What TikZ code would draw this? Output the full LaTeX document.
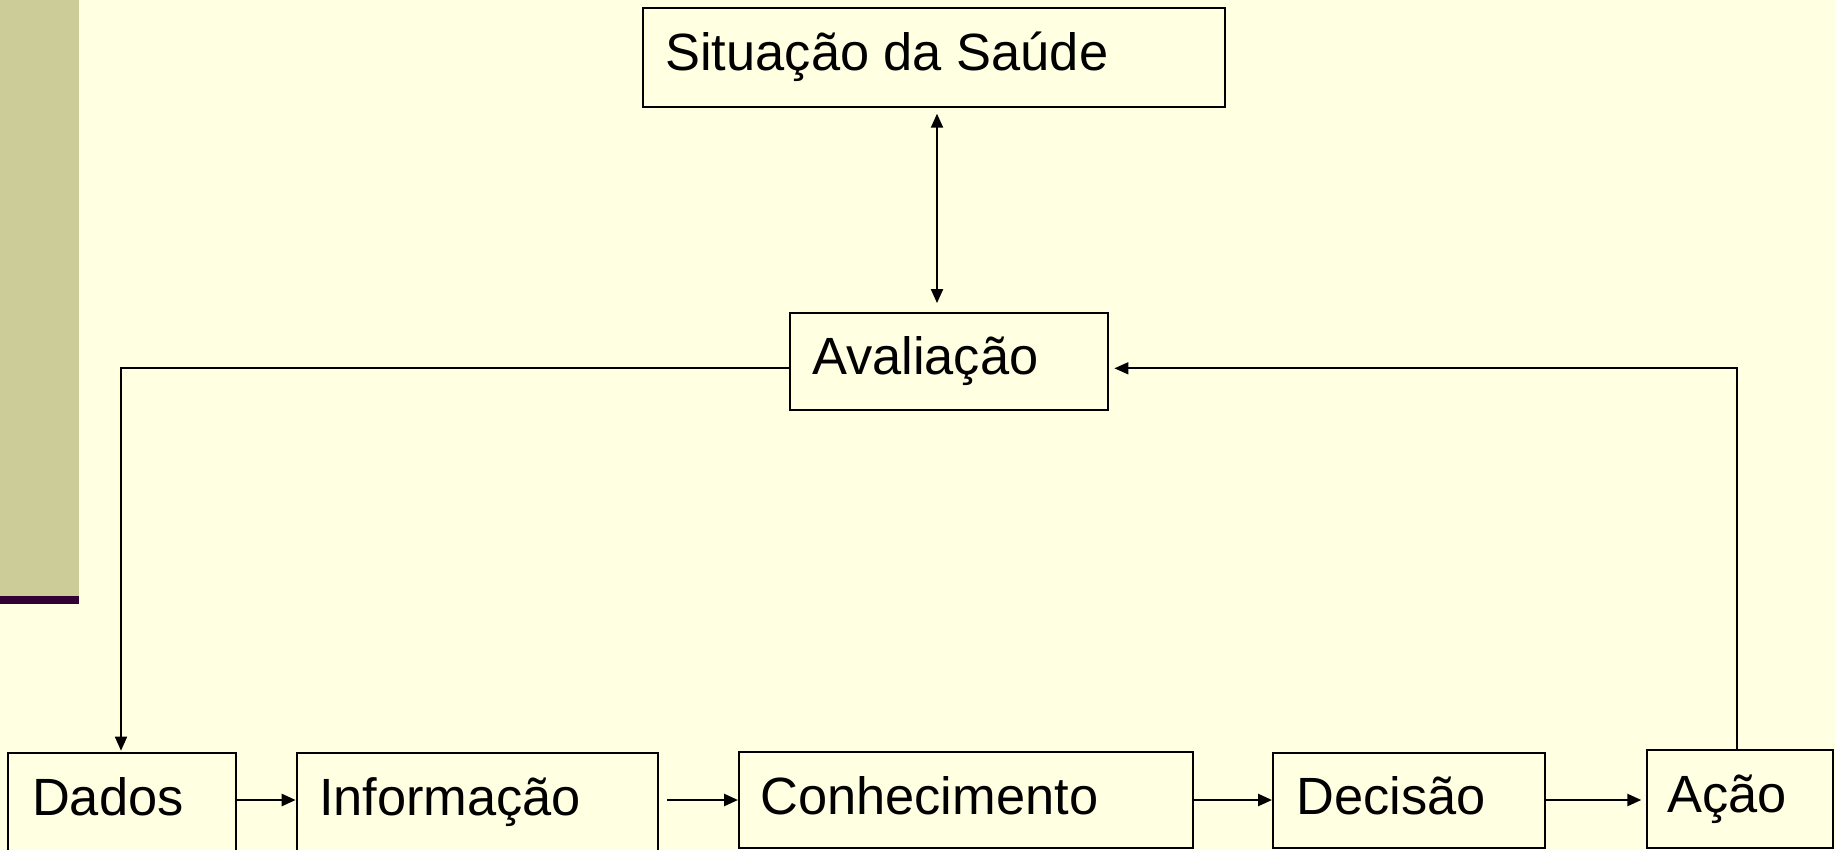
\documentclass[tikz,border=0pt]{standalone}
\usepackage{fontspec}
\setmainfont{Liberation Sans}
\usetikzlibrary{arrows.meta,fit}
\definecolor{bgcol}{HTML}{FFFFE1}
\definecolor{barcol}{HTML}{CCCC99}
\definecolor{stripecol}{HTML}{330033}
\tikzset{
  tipstyle/.tip={Triangle[length=7pt,width=6pt]},
  boxstyle/.style={draw=black, line width=1pt, inner sep=0pt},
  lbl/.style={inner sep=0pt, anchor=base west, font=\fontsize{26.2}{30}\selectfont},
  conn/.style={line width=0.85pt, -tipstyle},
  conn2/.style={line width=1.25pt, -tipstyle},
}
\begin{document}
\begin{tikzpicture}[x=0.5pt,y=-0.5pt]
\useasboundingbox (0,0) rectangle (1835,850);
\fill[bgcol] (0,0) rectangle (1835,850);
\fill[barcol] (0,0) rectangle (79,596);
\fill[stripecol] (0,596) rectangle (79,604);

% boxes
\node[boxstyle, fit={(643,8.3) (1225,106.7)}] (sit) {};
\node[boxstyle, fit={(790,312.5) (1108,410)}] (aval) {};
\node[boxstyle, fit={(8.3,753.3) (235.7,852)}] (dados) {};
\node[boxstyle, fit={(296.7,753.3) (658,852)}] (inf) {};
\node[boxstyle, fit={(739,751.7) (1193.3,848.3)}] (con) {};
\node[boxstyle, fit={(1273,752.7) (1545,848.3)}] (dec) {};
\node[boxstyle, fit={(1646.7,750) (1832.5,848.3)}] (acao) {};

% labels
\node[lbl] (sitt) at (665,70.7) {Situação da Saúde};
\node[lbl] (avalt) at (811.7,374) {Avaliação};
\node[lbl] (dadost) at (31.7,815) {Dados};
\node[lbl] (inft) at (318.6,815) {Informação};
\node[lbl] (cont) at (760,814) {Conhecimento};
\node[lbl] (dect) at (1296,814) {Decisão};
\node[lbl] (acaot) at (1667,812.7) {Ação};

% helper coordinates
\coordinate (dx) at (937,0);
\coordinate (lv) at (121,368.3);
\coordinate (rv) at (1737,368.3);
\coordinate (hy) at (0,800);

% connectors
\draw[line width=1pt, tipstyle-tipstyle, shorten <=3pt, shorten >=4.2pt] (sit.south -| dx) -- (aval.north -| dx);
\draw[conn, shorten >=0.8pt] (aval.west |- lv) -- (lv) -- (dados.north -| lv);
\draw[conn, shorten >=2.7pt] (acao.north -| rv) -- (rv) -- (aval.east |- rv);
\draw[conn2] (dados.east |- hy) -- (inf.west |- hy);
\draw[conn2, shorten <=4pt] (inf.east |- hy) -- (con.west |- hy);
\draw[conn2] (con.east |- hy) -- (dec.west |- hy);
\draw[conn2, shorten >=2.2pt] (dec.east |- hy) -- (acao.west |- hy);
\end{tikzpicture}
\end{document}
